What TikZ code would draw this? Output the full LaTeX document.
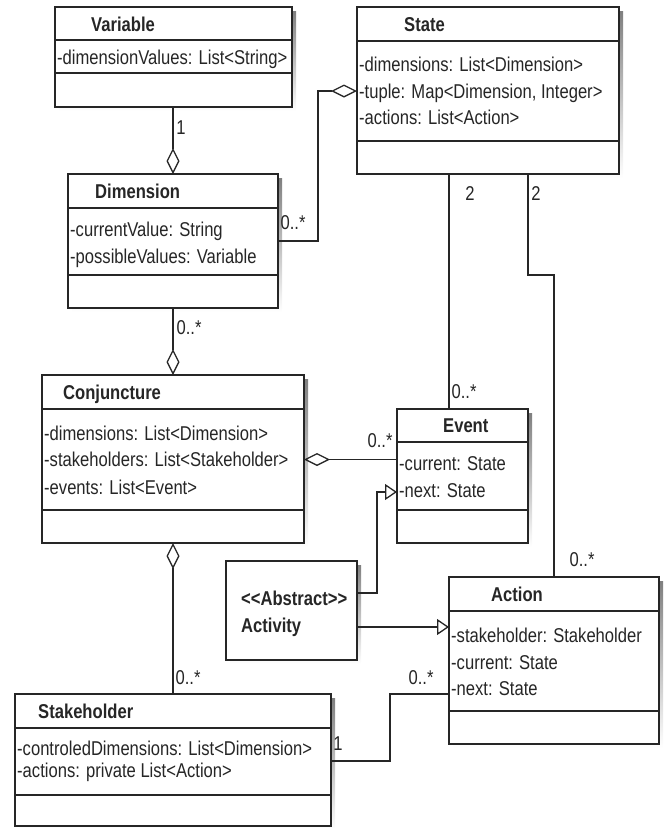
\documentclass[tikz,border=0pt]{standalone}
\usepackage{fontspec}
\setmainfont{Liberation Sans}[FakeStretch=0.83]
\usetikzlibrary{arrows.meta,calc}
\definecolor{ink}{HTML}{262626}
\definecolor{shade}{HTML}{D6D6D6}
\tikzset{
  box/.style={draw=ink, line width=1.4pt, fill=white, inner sep=0pt, outer sep=0pt, anchor=north west},
  ttl/.style={font=\fontsize{20}{24}\selectfont\bfseries, text=ink, anchor=west, inner sep=0pt, text height=14pt, text depth=0pt},
  attr/.style={font=\fontsize{20}{24}\selectfont, text=ink, anchor=west, inner sep=0pt, text height=14pt, text depth=0pt},
  mult/.style={font=\fontsize{20}{24}\selectfont, text=ink, inner sep=0pt, text height=14pt, text depth=0pt},
  conn/.style={draw=ink, line width=1.3pt},
  agg/.style={conn, {Diamond[open,length=26pt,width=13pt]}-},
  gen/.style={conn, -{Triangle[open,length=12pt,width=16pt]}},
}
% name, x1, y1, x2, y2
\newcommand\umlframe[5]{%
  \fill[shade] (#2+4,#3+4) rectangle (#4+4,#5+4);
  \node[box, minimum width={#4pt-#2pt}, minimum height={#5pt-#3pt}] (#1) at (#2,#3) {};
}
\newcommand\umldiv[3]{\draw[ink, line width=1.4pt] (#1,#3) -- (#2,#3);}
\begin{document}
\begin{tikzpicture}[x=1pt,y=-1pt]
\useasboundingbox (0,0) rectangle (664,828);

% ---------- boxes ----------
\umlframe{var}{55}{7}{292}{107}
\umldiv{55}{292}{40}\umldiv{55}{292}{73}
\node[ttl] (varT) at (91,24) {Variable};
\node[attr] (varA1) at (57,57) {-dimensionValues: List<String>};

\umlframe{state}{357}{7}{619}{174}
\umldiv{357}{619}{41}\umldiv{357}{619}{141}
\node[ttl] (stT) at (404,24) {State};
\node[attr] (stA1) at (359,64) {-dimensions: List<Dimension>};
\node[attr] (stA2) at (359,91) {-tuple: Map<Dimension, Integer>};
\node[attr] (stA3) at (359,117) {-actions: List<Action>};

\umlframe{dim}{68}{174}{278}{308}
\umldiv{68}{278}{208}\umldiv{68}{278}{275}
\node[ttl] (dimT) at (95,191) {Dimension};
\node[attr] (dimA1) at (70,229) {-currentValue: String};
\node[attr] (dimA2) at (70,256) {-possibleValues: Variable};

\umlframe{conj}{42}{375}{304}{543}
\umldiv{42}{304}{409}\umldiv{42}{304}{510}
\node[ttl] (conjT) at (63,392) {Conjuncture};
\node[attr] (conjA1) at (44,433) {-dimensions: List<Dimension>};
\node[attr] (conjA2) at (44,459) {-stakeholders: List<Stakeholder>};
\node[attr] (conjA3) at (44,487) {-events: List<Event>};

\umlframe{ev}{397}{409}{528}{543}
\umldiv{397}{528}{442}\umldiv{397}{528}{510}
\node[ttl] (evT) at (443,425.5) {Event};
\node[attr] (evA1) at (399,463) {-current: State};
\node[attr] (evA2) at (399,490) {-next: State};

\umlframe{actv}{226}{561}{357}{660}
\node[ttl] (actvT1) at (241,598) {<\kern0pt<Abstract>\kern0pt>};
\node[ttl] (actvT2) at (241,625) {Activity};

\umlframe{act}{449}{577}{659}{744}
\umldiv{449}{659}{611}\umldiv{449}{659}{711}
\node[ttl] (actT) at (491,594) {Action};
\node[attr] (actA1) at (451,635) {-stakeholder: Stakeholder};
\node[attr] (actA2) at (451,662) {-current: State};
\node[attr] (actA3) at (451,688) {-next: State};

\umlframe{stk}{15}{694}{331}{826}
\umldiv{15}{331}{728}\umldiv{15}{331}{795}
\node[ttl] (stkT) at (38,711) {Stakeholder};
\node[attr] (stkA1) at (17,748) {-controledDimensions: List<Dimension>};
\node[attr] (stkA2) at (17,770) {-actions: private List<Action>};

% ---------- connectors ----------
\draw[agg] (dim.north) -- (dim.north |- var.south);
\draw[agg] (conj.north) -- (conj.north |- dim.south);
\draw[agg] (conj.south) -- (conj.south |- stk.north);

\coordinate (ds1) at (318,91);
\coordinate (ds2) at (318,241);
\draw[agg] (state.west |- ds1) -- (ds1) -- (ds2) -- (dim.east |- ds2);

\coordinate (ce) at (0,459.5);
\draw[agg] (conj.east |- ce) -- (ev.west |- ce);

\coordinate (se) at (449,0);
\draw[conn] (state.south -| se) -- (ev.north -| se);

\coordinate (sa1) at (528,275);
\draw[conn] (state.south -| sa1) -- (sa1) -- (sa1 -| act.north) -- (act.north);

\coordinate (ae1) at (377,593);
\coordinate (ae2) at (377,492);
\draw[gen] (actv.east |- ae1) -- (ae1) -- (ae2) -- (ev.west |- ae2);

\coordinate (aa) at (0,627);
\draw[gen] (actv.east |- aa) -- (act.west |- aa);

\coordinate (sk1) at (390,761);
\coordinate (sk2) at (390,694);
\draw[conn] (stk.east |- sk1) -- (sk1) -- (sk2) -- (act.west |- sk2);

% ---------- multiplicities ----------
\node[mult] (m1) at (181,127) {1};
\node[mult] (m2) at (293,222) {0..*};
\node[mult] (m3) at (189,327) {0..*};
\node[mult] (m4) at (470,193) {2};
\node[mult] (m5) at (536,193) {2};
\node[mult] (m6) at (464,391) {0..*};
\node[mult] (m7) at (380,440) {0..*};
\node[mult] (m8) at (582,559) {0..*};
\node[mult] (m9) at (188,677) {0..*};
\node[mult] (m10) at (338,743) {1};
\node[mult] (m11) at (421,677) {0..*};
\end{tikzpicture}
\end{document}
